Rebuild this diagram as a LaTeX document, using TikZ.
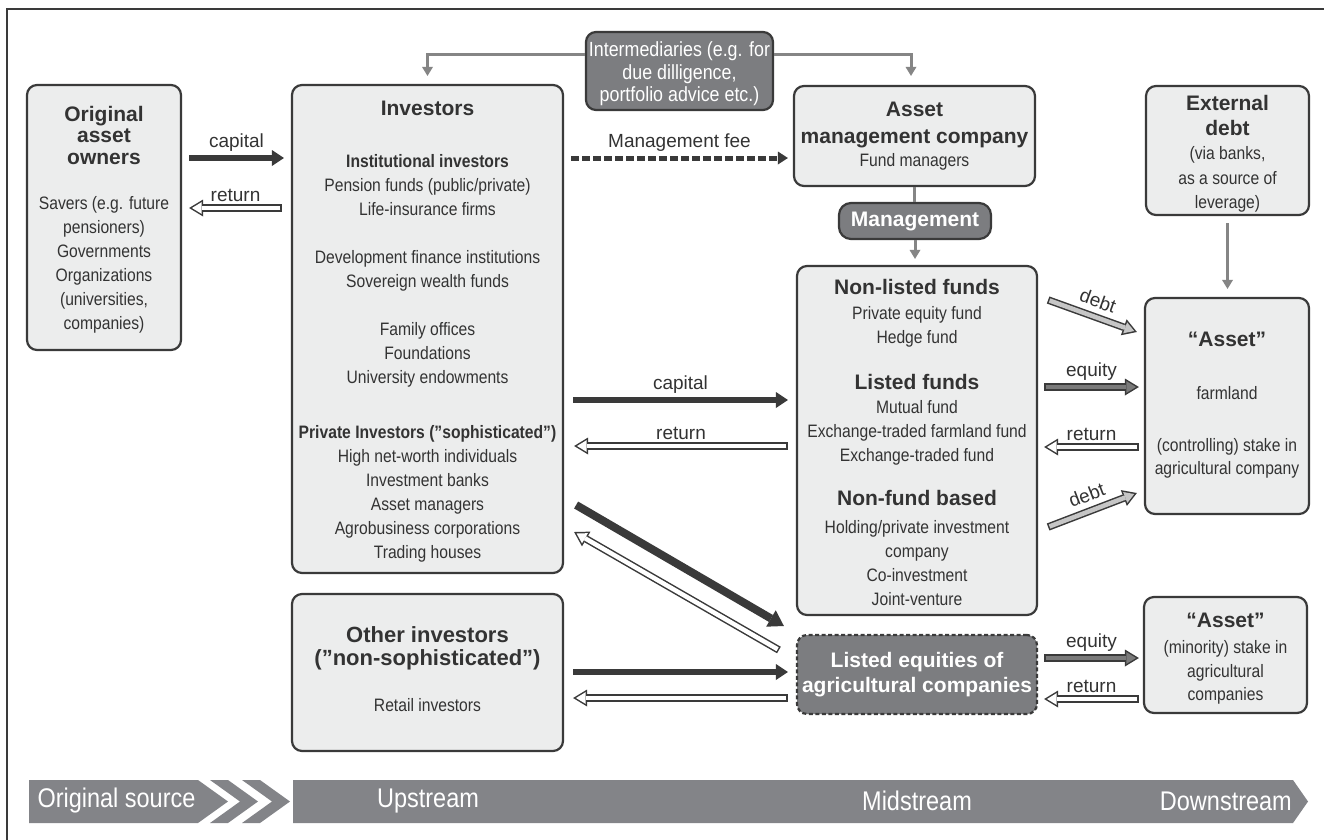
\documentclass[tikz,border=0pt]{standalone}
\usepackage{fontspec}
\setmainfont{Liberation Sans}
\newfontfamily\nar[FakeStretch=0.87]{Liberation Sans}
\usetikzlibrary{arrows.meta}
\definecolor{dk}{HTML}{3A3A3A}
\definecolor{tx}{HTML}{333333}
\definecolor{bx}{HTML}{ECEDED}
\definecolor{db}{HTML}{7C7D80}
\definecolor{gr}{HTML}{858585}
\definecolor{eqf}{HTML}{7A7A7A}
\definecolor{dbf}{HTML}{C6C6C6}
\definecolor{barc}{HTML}{838488}
\newcommand\hollowar[4]{\draw[holo] #2 -- #3; \draw[holi=#1] #2 -- #4 #3;}
\begin{document}
\begin{tikzpicture}[x=1pt,y=-1pt,
  box/.style={draw=dk, line width=2.2pt, fill=bx, rounded corners=10pt, inner sep=0pt},
  dbox/.style={box, fill=db},
  body/.style={font=\nar\fontsize{18}{24}\selectfont, text=tx, align=center, inner sep=0pt},
  ttl/.style={font=\bfseries\fontsize{21}{25}\selectfont, text=tx, align=center, inner sep=0pt},
  lbl/.style={font=\fontsize{19}{22}\selectfont, text=tx, inner sep=0pt},
  lblc/.style={lbl, yshift=15pt},
  lblr/.style={lbl, yshift=13pt},
  bartxt/.style={font=\nar\fontsize{27}{27}\selectfont, text=white, inner sep=0pt},
  solidar/.style={draw=dk, line width=6.5pt, -{Triangle[length=12pt,width=16pt,line width=0pt]}},
  soliddiag/.style={draw=dk, line width=8pt, -{Triangle[length=15pt,width=19pt,line width=0pt]}},
  holo/.style={draw=dk, line width=7.5pt, -{Triangle[length=14pt,width=17pt,line width=0pt]}},
  holi/.style={draw=#1, line width=4.5pt, shorten >=2.9pt, shorten <=1.5pt, -{Triangle[length=9.6pt,width=11.7pt,line width=0pt]}},
  gline/.style={draw=gr, line width=3pt},
  garrow/.style={gline, -{Triangle[length=9pt,width=11pt,line width=0pt]}},
  feear/.style={draw=dk, line width=5pt, dash pattern=on 8pt off 3pt, -{Triangle[length=10pt,width=13pt,line width=0pt]}}
]
\useasboundingbox (0,0) rectangle (1324,839);
\fill[white] (0,0) rectangle (1324,839);
\draw[draw=dk, line width=2.5pt] (7,860) -- (7,9) -- (1340,9);

% boxes
\node[box, minimum width=154pt, minimum height=265pt] (oao) at (104,217.5) {};
\node[box, minimum width=271pt, minimum height=488pt] (inv) at (427.5,329) {};
\node[box, minimum width=271pt, minimum height=157pt] (oth) at (427.5,672.5) {};
\node[dbox, minimum width=187pt, minimum height=78pt] (interm) at (679.5,71) {};
\node[box, minimum width=241pt, minimum height=100pt] (amc) at (914.5,136) {};
\node[dbox, rounded corners=12pt, minimum width=152pt, minimum height=36pt, text=white, font=\bfseries\fontsize{21}{21}\selectfont] (mgmt) at (915,221) {Management};
\node[box, minimum width=240pt, minimum height=349pt] (funds) at (917,440.5) {};
\node[dbox, dash pattern=on 4pt off 2.5pt, minimum width=240pt, minimum height=79pt, text=white, align=center, font=\bfseries\fontsize{21}{25}\selectfont] (listed) at (917,674.5) {Listed equities of\\agricultural companies};
\node[box, minimum width=163pt, minimum height=129pt] (ext) at (1227.5,150.5) {};
\node[box, minimum width=164pt, minimum height=216pt] (asset) at (1227,406) {};
\node[box, minimum width=163pt, minimum height=116pt] (asset2) at (1225.5,655) {};

% texts
\node[ttl, font=\bfseries\fontsize{21}{21.5}\selectfont] (oaoH) at (104,135) {Original\\asset\\owners};
\node[body] (oaoB) at (104,265) {Savers (e.g. future\\pensioners)\\Governments\\Organizations\\(universities,\\companies)};
\node[ttl] (invH) at (427.5,108) {Investors};
\node[body] (invB1) at (427.5,271) {\textbf{Institutional investors}\\Pension funds (public/private)\\Life-insurance firms\\[24pt]Development finance institutions\\Sovereign wealth funds\\[24pt]Family offices\\Foundations\\University endowments};
\node[body] (invB2) at (427.5,494) {\textbf{Private Investors (”sophisticated”)}\\High net-worth individuals\\Investment banks\\Asset managers\\Agrobusiness corporations\\Trading houses};
\node[ttl, font=\bfseries\fontsize{22}{23}\selectfont] (othH) at (427.5,648) {Other investors\\(”non-sophisticated”)};
\node[body] (othB) at (427.5,705) {Retail investors};
\node[body, text=white, font=\nar\fontsize{20.5}{22.5}\selectfont] (intT) at (679.5,74) {Intermediaries (e.g. for\\due dilligence,\\portfolio advice etc.)};
\node[ttl, font=\bfseries\fontsize{21}{27}\selectfont] (amcH) at (914.5,124.5) {Asset\\management company};
\node[body] (amcB) at (914.5,162) {Fund managers};
\node[ttl] (fH1) at (917,287) {Non-listed funds};
\node[body] (fB1) at (917,327) {Private equity fund\\Hedge fund};
\node[ttl] (fH2) at (917,382) {Listed funds};
\node[body] (fB2) at (917,433) {Mutual fund\\Exchange-traded farmland fund\\Exchange-traded fund};
\node[ttl] (fH3) at (917,498) {Non-fund based};
\node[body] (fB3) at (917,563) {Holding/private investment\\company\\Co-investment\\Joint-venture};
\node[ttl] (extH) at (1227.5,115.5) {External\\debt};
\node[body, font=\nar\fontsize{18}{24.5}\selectfont] (extB) at (1227.5,179.5) {(via banks,\\as a source of\\leverage)};
\node[ttl] (asH) at (1227,339) {“Asset”};
\node[body] (asB1) at (1227,393) {farmland};
\node[body, font=\nar\fontsize{18}{23}\selectfont] (asB2) at (1227,458.5) {(controlling) stake in\\agricultural company};
\node[ttl] (as2H) at (1225.5,620) {“Asset”};
\node[body, font=\nar\fontsize{18}{23.5}\selectfont] (as2B) at (1225.5,672.5) {(minority) stake in\\agricultural\\companies};

% gray connectors
\draw[garrow, shorten >=8pt] ([yshift=17pt]interm.west) -| (inv.north);
\draw[garrow, shorten >=9pt] ([yshift=17pt]interm.east) -| ([xshift=-3.5pt]amc.north);
\draw[gline] (amc.south) -- (amc.south |- mgmt.north);
\draw[garrow, shorten >=6pt] (mgmt.south) -- (mgmt.south |- funds.north);
\draw[garrow, shorten <=7pt, shorten >=8pt] (ext.south) -- (ext.south |- asset.north);

% flows
\draw[solidar] ([xshift=7pt,yshift=59.5pt]oao.east) -- node[lblc] (lcap1) {capital} ([xshift=-7pt,yshift=171pt]inv.west);
\hollowar{white}{([xshift=-9pt,yshift=121pt]inv.west)}{([xshift=7pt,yshift=9.5pt]oao.east)}{node[lblr] (lret1) {return}}
\draw[feear] ([xshift=7pt,yshift=171pt]inv.east) -- node[lblc] (lfee) {Management fee} ([xshift=-5pt,yshift=-22pt]amc.west);
\draw[solidar] ([xshift=9pt,yshift=-71pt]inv.east) -- node[lblc] (lcap2) {capital} ([xshift=-8pt,yshift=40.5pt]funds.west);
\hollowar{white}{([xshift=-8pt,yshift=-5.5pt]funds.west)}{([xshift=10pt,yshift=-117pt]inv.east)}{node[lblr] (lret2) {return}}
\draw[soliddiag] ([xshift=12pt,yshift=-176pt]inv.east) -- ([xshift=-12pt,yshift=48.5pt]listed.west);
\hollowar{white}{([xshift=-17pt,yshift=24.5pt]listed.west)}{([xshift=10pt,yshift=-203pt]inv.east)}{}
\draw[solidar] ([xshift=9pt,yshift=0.5pt]oth.east) -- ([xshift=-8pt,yshift=2.5pt]listed.west);
\hollowar{white}{([xshift=-8pt,yshift=-23.5pt]listed.west)}{([xshift=9pt,yshift=-25.5pt]oth.east)}{}
\hollowar{dbf}{([xshift=10pt,yshift=140.5pt]funds.east)}{([xshift=-7pt,yshift=74pt]asset.west)}{node[lbl, sloped, above=7pt] (ldebt1) {debt}}
\hollowar{eqf}{([xshift=6pt,yshift=53.5pt]funds.east)}{([xshift=-5pt,yshift=19pt]asset.west)}{node[lblc] (leq1) {equity}}
\hollowar{white}{([xshift=-5pt,yshift=-41pt]asset.west)}{([xshift=6pt,yshift=-6.5pt]funds.east)}{node[lblr] (lret4) {return}}
\hollowar{dbf}{([xshift=10pt,yshift=-86.5pt]funds.east)}{([xshift=-7pt,yshift=-87pt]asset.west)}{node[lbl, sloped, above=7pt] (ldebt2) {debt}}
\hollowar{eqf}{([xshift=6pt,yshift=16.5pt]listed.east)}{([xshift=-4pt,yshift=-3pt]asset2.west)}{node[lblc] (leq2) {equity}}
\hollowar{white}{([xshift=-4pt,yshift=-44pt]asset2.west)}{([xshift=6pt,yshift=-24.5pt]listed.east)}{node[lblr] (lret5) {return}}

% bottom bar
\fill[barc] (29,780) -- (198,780) -- (228,801.5) -- (198,823) -- (29,823) -- cycle;
\fill[barc] (210,780) -- (228,780) -- (258,801.5) -- (228,823) -- (210,823) -- (240,801.5) -- cycle;
\fill[barc] (242,780) -- (260,780) -- (290,801.5) -- (260,823) -- (242,823) -- (272,801.5) -- cycle;
\fill[barc] (293,780) -- (1293,780) -- (1308,801.5) -- (1293,823) -- (293,823) -- cycle;
\node[bartxt] (src) at (116.5,801) {Original source};
\node[bartxt] (up) at (428,801) {Upstream};
\node[bartxt] (mid) at (917,801) {Midstream};
\node[bartxt, anchor=east] (down) at (1292,801) {Downstream};
\end{tikzpicture}
\end{document}
